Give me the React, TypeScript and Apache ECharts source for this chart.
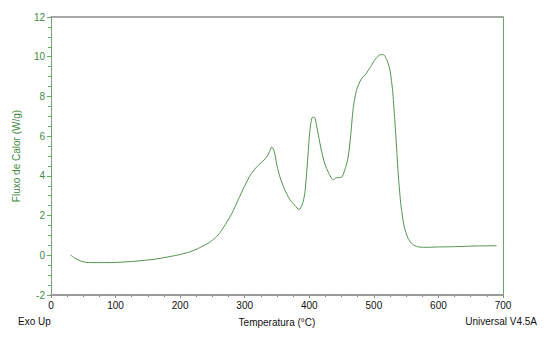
import React, { useEffect, useRef } from "react";
import * as echarts from "echarts";

const temperature = [
  30, 35, 40, 47, 55, 70, 100, 130, 160, 185, 200, 215, 230, 245, 255, 262, 270, 280, 290, 300,
  310, 320, 330, 336, 342, 346, 350, 355, 362, 370, 378, 384, 389, 393, 397, 401, 405, 408, 412,
  418, 424, 430, 437, 442, 450, 455, 460, 464, 468, 473, 480, 488, 495, 503, 510, 515, 520, 525,
  529, 532, 535, 538, 542, 547, 553, 560, 568, 580, 600, 620, 640, 660, 690,
];
const heatFlow = [
  0.02, -0.1, -0.2, -0.3, -0.36, -0.37, -0.36, -0.3, -0.2, -0.06, 0.04, 0.17, 0.38, 0.64, 0.9, 1.15,
  1.55, 2.1, 2.8, 3.5, 4.1, 4.5, 4.8, 5.05, 5.45, 5.2, 4.5, 3.9, 3.3, 2.8, 2.5, 2.3, 2.55, 3.1, 4.6,
  6.3, 6.95, 6.95, 6.4, 5.4, 4.6, 4.15, 3.8, 3.9, 3.93, 4.3, 4.9, 6.0, 7.4, 8.3, 8.85, 9.15, 9.5,
  9.9, 10.1, 10.1, 9.85, 9.3, 8.3, 7.0, 5.5, 4.0, 2.5, 1.45, 0.85, 0.55, 0.43, 0.4, 0.42, 0.43,
  0.45, 0.47, 0.48,
];
const xTicks = { min: 0, max: 700, interval: 100 };
const yTicks = { min: -2, max: 12, interval: 2 };

const FONT = "'Liberation Sans Narrow', 'Arial Narrow', 'Liberation Sans', Arial, sans-serif";
const GREEN = "#3f8a3f";
const LINE_GREEN = "#6aa86a";

export default function App() {
  const ref = useRef<HTMLDivElement>(null);
  useEffect(() => {
    if (!ref.current) return;
    const chart = echarts.init(ref.current, undefined, { renderer: "svg" });
    chart.setOption({
      animation: false,
      backgroundColor: "#fff",
      grid: { left: 51, right: 52, top: 17, bottom: 56 },
      xAxis: [
        {
          type: "value",
          min: xTicks.min,
          max: xTicks.max,
          interval: xTicks.interval,
          position: "bottom",
          name: "Temperatura (°C)",
          nameLocation: "middle",
          nameGap: 22,
          nameTextStyle: { color: "#111", fontSize: 10, fontFamily: FONT },
          axisLine: { onZero: false, lineStyle: { color: "#9a9a9a", width: 2 } },
          axisTick: { length: 3, lineStyle: { color: "#888" } },
          minorTick: { show: true, splitNumber: 4, length: 2, lineStyle: { color: "#888" } },
          axisLabel: { color: "#111", fontSize: 10, fontFamily: FONT, margin: 5 },
          splitLine: { show: false },
        },
        {
          type: "value",
          min: xTicks.min,
          max: xTicks.max,
          position: "top",
          axisLine: { show: true, onZero: false, lineStyle: { color: "#8a8a8a", width: 1.5 } },
          axisTick: { show: false },
          axisLabel: { show: false },
          splitLine: { show: false },
        },
      ],
      yAxis: [
        {
          type: "value",
          min: yTicks.min,
          max: yTicks.max,
          interval: yTicks.interval,
          position: "left",
          name: "Fluxo de Calor (W/g)",
          nameLocation: "middle",
          nameGap: 30,
          nameTextStyle: { color: GREEN, fontSize: 10, fontFamily: FONT },
          axisLine: { show: true, onZero: false, lineStyle: { color: LINE_GREEN, width: 1 } },
          axisTick: { show: true, length: 4, lineStyle: { color: LINE_GREEN } },
          minorTick: { show: true, splitNumber: 4, length: 3, lineStyle: { color: LINE_GREEN } },
          axisLabel: { color: GREEN, fontSize: 10, fontFamily: FONT, margin: 6 },
          splitLine: { show: false },
        },
        {
          type: "value",
          min: yTicks.min,
          max: yTicks.max,
          position: "right",
          axisLine: { show: true, onZero: false, lineStyle: { color: LINE_GREEN, width: 1 } },
          axisTick: { show: false },
          axisLabel: { show: false },
          splitLine: { show: false },
        },
      ],
      graphic: [
        {
          type: "text",
          left: 18,
          top: 316,
          style: { text: "Exo Up", fill: "#111", fontSize: 10, fontFamily: FONT },
        },
        {
          type: "text",
          right: 18,
          top: 316,
          style: { text: "Universal V4.5A", fill: "#111", fontSize: 10, fontFamily: FONT },
        },
      ],
      series: [
        {
          type: "line",
          data: temperature.map((t, i) => [t, heatFlow[i]]),
          showSymbol: false,
          smooth: 0.25,
          lineStyle: { color: "#4f944f", width: 1 },
          xAxisIndex: 0,
          yAxisIndex: 0,
        },
      ],
    });
    return () => chart.dispose();
  }, []);
  return <div ref={ref} style={{ width: 555, height: 351, margin: -8 }} />;
}
